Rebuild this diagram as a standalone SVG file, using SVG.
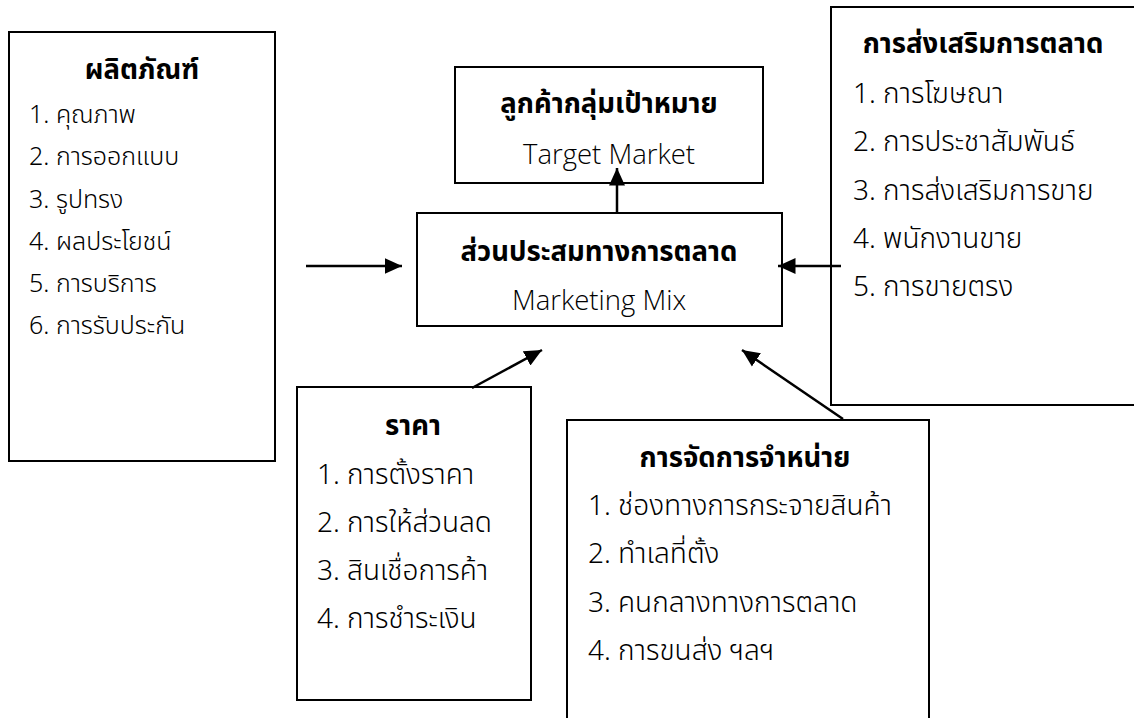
<svg xmlns="http://www.w3.org/2000/svg" width="1134" height="718" viewBox="0 0 1134 718">
<defs>
<style>
.box{fill:#fff;stroke:#000;stroke-width:2}
text{font-family:"Noto Sans Thai","Noto Sans","Liberation Sans",sans-serif;fill:#000}
.t{font-weight:bold;font-size:27.5px;text-anchor:middle}
.i{font-size:28px;font-weight:300}
.s{font-size:25px;font-weight:300}
.c{text-anchor:middle;font-size:27.5px;font-family:"Open Sans","Noto Sans",sans-serif;font-weight:300}
.ln{stroke:#000;stroke-width:2.5;fill:none}
</style>
<marker id="ah" markerWidth="8" markerHeight="8" refX="7" refY="4" orient="auto" markerUnits="strokeWidth">
<path d="M0,0.8 L7,4 L0,7.2 Z" fill="#000"/>
</marker>
</defs>
<rect width="1134" height="718" fill="#fff"/>
<g id="product">
<rect class="box" x="9" y="32" width="266" height="429"/>
<text class="t" x="142" y="79">ผลิตภัณฑ์</text>
<text class="s" x="29" y="123">1. คุณภาพ</text>
<text class="s" x="29" y="165">2. การออกแบบ</text>
<text class="s" x="29" y="208">3. รูปทรง</text>
<text class="s" x="29" y="250">4. ผลประโยชน์</text>
<text class="s" x="29" y="292">5. การบริการ</text>
<text class="s" x="29" y="334">6. การรับประกัน</text>
</g>
<g id="target">
<rect class="box" x="455" y="67" width="308" height="116"/>
<text class="t" x="609" y="113">ลูกค้ากลุ่มเป้าหมาย</text>
<text class="c" x="609" y="164">Target Market</text>
</g>
<g id="mix">
<rect class="box" x="417" y="213" width="365" height="113"/>
<text class="t" x="599" y="261">ส่วนประสมทางการตลาด</text>
<text class="c" x="599" y="310">Marketing Mix</text>
</g>
<g id="promotion">
<rect class="box" x="831" y="7" width="310" height="398"/>
<text class="t" x="983" y="53">การส่งเสริมการตลาด</text>
<text class="i" x="853" y="103">1. การโฆษณา</text>
<text class="i" x="853" y="151">2. การประชาสัมพันธ์</text>
<text class="i" x="853" y="200">3. การส่งเสริมการขาย</text>
<text class="i" x="853" y="248">4. พนักงานขาย</text>
<text class="i" x="853" y="296">5. การขายตรง</text>
</g>
<g id="price">
<rect class="box" x="297" y="387" width="234" height="313"/>
<text class="t" x="413" y="435">ราคา</text>
<text class="i" x="317" y="484">1. การตั้งราคา</text>
<text class="i" x="317" y="532">2. การให้ส่วนลด</text>
<text class="i" x="317" y="580">3. สินเชื่อการค้า</text>
<text class="i" x="317" y="628">4. การชำระเงิน</text>
</g>
<g id="place">
<rect class="box" x="567" y="420" width="362" height="310"/>
<text class="t" x="745" y="467">การจัดการจำหน่าย</text>
<text class="i" x="588" y="515">1. ช่องทางการกระจายสินค้า</text>
<text class="i" x="588" y="563">2. ทำเลที่ตั้ง</text>
<text class="i" x="588" y="612">3. คนกลางทางการตลาด</text>
<text class="i" x="588" y="660">4. การขนส่ง ฯลฯ</text>
</g>
<g id="connectors">
<line class="ln" x1="617" y1="213" x2="617" y2="168" marker-end="url(#ah)"/>
<line class="ln" x1="306" y1="266" x2="402" y2="266" marker-end="url(#ah)"/>
<line class="ln" x1="841" y1="266" x2="778" y2="266" marker-end="url(#ah)"/>
<line class="ln" x1="472" y1="388" x2="542" y2="350" marker-end="url(#ah)"/>
<line class="ln" x1="843" y1="419" x2="742" y2="350" marker-end="url(#ah)"/>
</g>
</svg>
